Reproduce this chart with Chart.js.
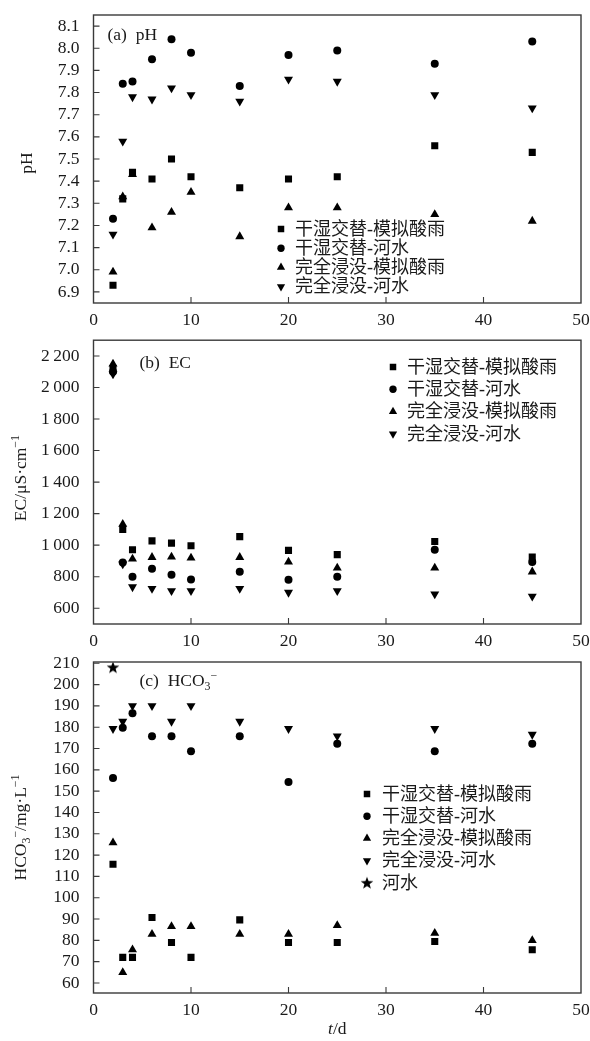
<!DOCTYPE html>
<html>
<head>
<meta charset="utf-8">
<script src="https://cdn.jsdelivr.net/npm/chart.js@4.4.1/dist/chart.umd.min.js"></script>
<style>
  html, body { margin: 0; padding: 0; background: #fff; }
  body { width: 590px; height: 1041px; position: relative; overflow: hidden; }
  canvas { position: absolute; left: 0; }
</style>
</head>
<body>
<canvas id="cA" width="590" height="335" style="top:0px"></canvas>
<canvas id="cB" width="590" height="320" style="top:335px"></canvas>
<canvas id="cC" width="590" height="386" style="top:655px"></canvas>
<script>
// ---------------- data ----------------
const days = [2, 3, 4, 6, 8, 10, 15, 20, 25, 35, 45];
const seriesNames = ['干湿交替-模拟酸雨', '干湿交替-河水', '完全浸没-模拟酸雨', '完全浸没-河水'];
const riverName = '河水';

const phDwAcid   = [6.93, 7.32, 7.44, 7.41, 7.50, 7.42, 7.37, 7.41, 7.42, 7.56, 7.53];
const phDwRiver  = [7.23, 7.84, 7.85, 7.95, 8.04, 7.98, 7.83, 7.97, 7.99, 7.93, 8.03];
const phSubAcid  = [6.99, 7.33, 7.43, 7.19, 7.26, 7.35, 7.15, 7.28, 7.28, 7.25, 7.22];
const phSubRiver = [7.16, 7.58, 7.78, 7.77, 7.82, 7.79, 7.76, 7.86, 7.85, 7.79, 7.73];

const ecDwAcid   = [2120, 1100, 971, 1027, 1013, 996, 1054, 967, 940, 1023, 925];
const ecDwRiver  = [2100, 890, 800, 850, 813, 783, 831, 781, 800, 971, 894];
const ecSubAcid  = [2150, 1133, 913, 923, 925, 919, 923, 894, 856, 856, 831];
const ecSubRiver = [2085, 880, 735, 725, 711, 711, 725, 700, 711, 690, 675];

const hcDwAcid   = [115.7, 72.0, 72.0, 90.7, 79.0, 72.0, 89.6, 79.0, 79.0, 79.5, 75.6];
const hcDwRiver  = [156.2, 179.7, 186.6, 175.8, 175.8, 168.7, 175.8, 154.3, 172.3, 168.7, 172.3];
const hcSubAcid  = [125.8, 65.0, 75.6, 82.9, 86.5, 86.5, 82.9, 82.9, 87.0, 83.4, 80.0];
const hcSubRiver = [179.3, 182.7, 190.0, 190.0, 182.7, 190.0, 182.7, 179.3, 175.8, 179.3, 176.6];
const riverDays  = [2];
const hcRiver    = [208.1];

const xTicks  = [0, 10, 20, 30, 40, 50];
const phTicks = [6.9, 7.0, 7.1, 7.2, 7.3, 7.4, 7.5, 7.6, 7.7, 7.8, 7.9, 8.0, 8.1];
const ecTicks = [600, 800, 1000, 1200, 1400, 1600, 1800, 2000, 2200];
const hcTicks = [60, 70, 80, 90, 100, 110, 120, 130, 140, 150, 160, 170, 180, 190, 200, 210];

// ---------------- style ----------------
const SERIF = '"Liberation Serif", "Noto Sans CJK SC", serif';
const TEXT = '#1a1a1a';
const AXIS = '#3a3a3a';
const MARK = '#000';

// star marker image
const starImg = (() => {
  const c = document.createElement('canvas');
  c.width = 14; c.height = 14;
  const g = c.getContext('2d');
  g.fillStyle = MARK;
  g.beginPath();
  const cx = 7, cy = 7.5, R = 6.6, r = 2.7;
  for (let i = 0; i < 10; i++) {
    const a = -Math.PI / 2 + i * Math.PI / 5;
    const rr = i % 2 === 0 ? R : r;
    const px = cx + rr * Math.cos(a), py = cy + rr * Math.sin(a);
    if (i === 0) g.moveTo(px, py); else g.lineTo(px, py);
  }
  g.closePath(); g.fill();
  return c;
})();

const markerStyles = [
  { pointStyle: 'rect', radius: 5.0, rotation: 0 },
  { pointStyle: 'circle', radius: 4.0, rotation: 0 },
  { pointStyle: 'triangle', radius: 5.2, rotation: 0 },
  { pointStyle: 'triangle', radius: 5.2, rotation: 180 },
  { pointStyle: starImg, radius: 7, rotation: 0 }
];

function ds(label, xs, ys, k) {
  const m = markerStyles[k];
  return {
    label,
    data: xs.map((x, i) => ({ x, y: ys[i] })),
    pointStyle: m.pointStyle,
    pointRadius: m.radius,
    pointRotation: m.rotation,
    backgroundColor: MARK,
    borderColor: MARK,
    borderWidth: 0,
    showLine: false
  };
}

// rich text: segments {t, sub, sup, it}
function richWidth(ctx, segs, size) {
  let w = 0;
  for (const s of segs) {
    const sz = (s.sub || s.sup) ? size * 0.68 : size;
    ctx.font = (s.it ? 'italic ' : '') + sz + 'px ' + SERIF;
    w += ctx.measureText(s.t).width;
  }
  return w;
}
function drawRich(ctx, segs, x, y, size, align, rot) {
  ctx.save();
  ctx.translate(x, y);
  if (rot) ctx.rotate(rot);
  const w = richWidth(ctx, segs, size);
  let cx = align === 'center' ? -w / 2 : 0;
  ctx.fillStyle = TEXT;
  ctx.textBaseline = 'alphabetic';
  ctx.textAlign = 'left';
  const base = size * 0.35;
  for (const s of segs) {
    const sz = (s.sub || s.sup) ? size * 0.68 : size;
    ctx.font = (s.it ? 'italic ' : '') + sz + 'px ' + SERIF;
    let dy = 0;
    if (s.sub) dy = size * 0.22;
    if (s.sup) dy = -size * 0.38;
    ctx.fillText(s.t, cx, base + dy);
    cx += ctx.measureText(s.t).width;
  }
  ctx.restore();
}

const framePlugin = {
  id: 'frame',
  afterDraw(chart) {
    const { ctx, chartArea: a, scales } = chart;
    ctx.save();
    ctx.strokeStyle = AXIS;
    ctx.lineWidth = 1.4;
    ctx.strokeRect(a.left, a.top, a.right - a.left, a.bottom - a.top);
    ctx.lineWidth = 1.1;
    ctx.beginPath();
    scales.x.ticks.forEach(t => {
      const px = scales.x.getPixelForValue(t.value);
      if (px > a.left + 1 && px < a.right - 1) { ctx.moveTo(px, a.bottom); ctx.lineTo(px, a.bottom - 6); }
    });
    scales.y.ticks.forEach(t => {
      const py = scales.y.getPixelForValue(t.value);
      if (py > a.top + 1 && py < a.bottom - 1) { ctx.moveTo(a.left, py); ctx.lineTo(a.left + 6, py); }
    });
    ctx.stroke();
    ctx.restore();
  }
};

const annoPlugin = {
  id: 'anno',
  afterDraw(chart, args, opts) {
    const { ctx, chartArea: a } = chart;
    drawRich(ctx, opts.panel, a.left + opts.panelDx, a.top + opts.panelDy, 17.5, 'left', 0);
    drawRich(ctx, opts.ytitle, opts.ytitleX, (a.top + a.bottom) / 2 + (opts.ytitleDy || 0), 17.5, 'center', -Math.PI / 2);
    if (opts.xtitle) drawRich(ctx, opts.xtitle, (a.left + a.right) / 2, opts.xtitleY, 17.5, 'center', 0);
    const H = Chart.helpers;
    chart.data.datasets.forEach((d, i) => {
      const y = opts.legY + i * opts.legGap;
      ctx.save();
      ctx.fillStyle = MARK; ctx.strokeStyle = MARK;
      const r = d.pointRadius * 0.92;
      H.drawPoint(ctx, { pointStyle: d.pointStyle, rotation: d.pointRotation, radius: r, borderWidth: 0 }, opts.legX, y);
      ctx.restore();
      ctx.save();
      ctx.font = '18px ' + SERIF;
      ctx.fillStyle = TEXT;
      ctx.textBaseline = 'middle';
      ctx.textAlign = 'left';
      ctx.fillText(d.label, opts.legX + opts.legTextDx, y + 1);
      ctx.restore();
    });
  }
};

const fmtThin = v => {
  const s = String(v);
  return s.length > 3 ? s.slice(0, s.length - 3) + '\u2009' + s.slice(s.length - 3) : s;
};

function makeChart(id, datasets, y, cfg) {
  return new Chart(document.getElementById(id), {
    type: 'scatter',
    data: { datasets },
    options: {
      responsive: false,
      animation: false,
      devicePixelRatio: 1,
      events: [],
      layout: { padding: { top: cfg.padTop, right: 9, left: 0, bottom: 0 } },
      plugins: {
        legend: { display: false },
        tooltip: { enabled: false },
        anno: cfg.anno
      },
      scales: {
        x: {
          type: 'linear', min: 0, max: 50,
          afterBuildTicks: s => { s.ticks = xTicks.map(v => ({ value: v })); },
          afterFit: s => { s.height = cfg.xH; s.paddingLeft = 0; s.paddingRight = 0; s.paddingTop = 0; s.paddingBottom = 0; },
          grid: { display: false, drawTicks: false },
          border: { display: false },
          ticks: { font: { family: SERIF, size: 17.5 }, color: TEXT, padding: 7, maxRotation: 0, autoSkip: false }
        },
        y: {
          type: 'linear', min: y.min, max: y.max,
          afterBuildTicks: s => { s.ticks = y.ticks.map(v => ({ value: v })); },
          afterFit: s => { s.width = 93.5; s.paddingTop = 0; s.paddingBottom = 0; s.paddingLeft = 0; s.paddingRight = 0; },
          grid: { display: false, drawTicks: false },
          border: { display: false },
          ticks: { font: { family: SERIF, size: 17.5 }, color: TEXT, padding: 14, autoSkip: false, callback: y.fmt }
        }
      }
    },
    plugins: [framePlugin, annoPlugin]
  });
}

makeChart('cA', [
  ds(seriesNames[0], days, phDwAcid, 0),
  ds(seriesNames[1], days, phDwRiver, 1),
  ds(seriesNames[2], days, phSubAcid, 2),
  ds(seriesNames[3], days, phSubRiver, 3)
], { min: 6.85, max: 8.15, ticks: phTicks, fmt: v => Number(v).toFixed(1) }, {
  padTop: 15, xH: 32,
  anno: {
    panel: [{ t: '(a)  pH' }], panelDx: 14, panelDy: 19,
    ytitle: [{ t: 'pH' }], ytitleX: 26, ytitleDy: 4,
    legX: 281, legTextDx: 14, legY: 229, legGap: 19.2
  }
});

makeChart('cB', [
  ds(seriesNames[0], days, ecDwAcid, 0),
  ds(seriesNames[1], days, ecDwRiver, 1),
  ds(seriesNames[2], days, ecSubAcid, 2),
  ds(seriesNames[3], days, ecSubRiver, 3)
], { min: 500, max: 2300, ticks: ecTicks, fmt: v => fmtThin(v) }, {
  padTop: 2, xH: 31,
  anno: {
    panel: [{ t: '(b)  EC' }], panelDx: 46, panelDy: 22,
    ytitle: [{ t: 'EC/μS·cm' }, { t: '−1', sup: true }], ytitleX: 20, ytitleDy: -4,
    legX: 393, legTextDx: 14, legY: 32, legGap: 22.3
  }
});

makeChart('cC', [
  ds(seriesNames[0], days, hcDwAcid, 0),
  ds(seriesNames[1], days, hcDwRiver, 1),
  ds(seriesNames[2], days, hcSubAcid, 2),
  ds(seriesNames[3], days, hcSubRiver, 3),
  ds(riverName, riverDays, hcRiver, 4)
], { min: 55.3, max: 210.6, ticks: hcTicks, fmt: v => String(v) }, {
  padTop: 7, xH: 48,
  anno: {
    panel: [{ t: '(c)  HCO' }, { t: '3', sub: true }, { t: '−', sup: true }], panelDx: 46, panelDy: 18,
    ytitle: [{ t: 'HCO' }, { t: '3', sub: true }, { t: '−', sup: true }, { t: '/mg·L' }, { t: '−1', sup: true }], ytitleX: 20, ytitleDy: 0,
    xtitle: [{ t: 't', it: true }, { t: '/d' }], xtitleY: 373,
    legX: 367, legTextDx: 15, legY: 139, legGap: 22.2
  }
});
</script>
</body>
</html>
